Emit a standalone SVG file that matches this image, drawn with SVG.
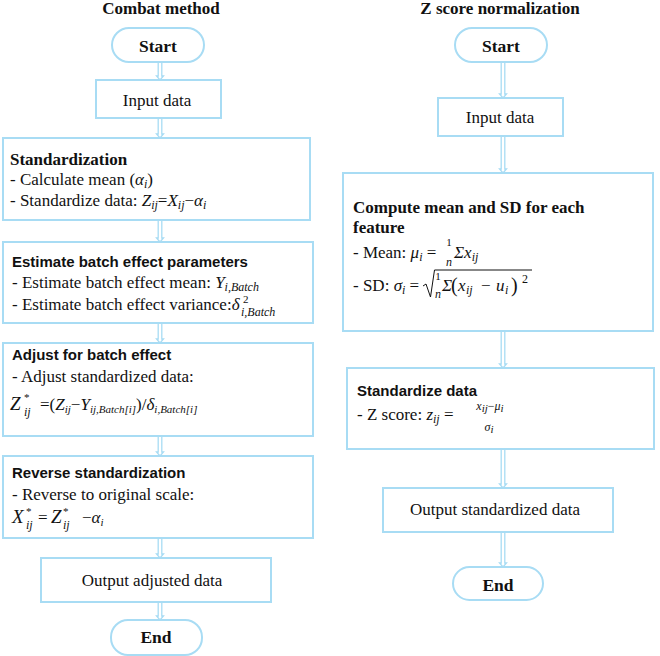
<svg xmlns="http://www.w3.org/2000/svg" width="660" height="656" viewBox="0 0 660 656" font-family="'Liberation Serif', serif">
<defs>
<style>
.bx{fill:#fff;stroke:#a8dcf4;stroke-width:2}
.ar{fill:#fff;stroke:#a8dcf4;stroke-width:1.3}
text{font-family:"Liberation Serif","Times New Roman",serif;font-size:17px;fill:#111}
.bd{font-weight:bold}
.hs{font-family:"Liberation Sans",Arial,sans-serif;font-weight:bold;font-size:15px}
.m{font-style:italic}
.s{font-size:12px}
.ss{font-size:11px}
.big{font-size:19px;font-style:italic}
</style>
</defs>
<rect width="660" height="656" fill="#fff"/>

<text class="bd" x="161" y="14" text-anchor="middle">Combat method</text>
<text class="bd" x="500" y="14" text-anchor="middle">Z score normalization</text>

<g id="connectors">
<path class="ar" d="M158.2 62V76H156.5L160 80L163.5 76H161.8V62"/>
<path class="ar" d="M158.2 118V134H156.5L160 138L163.5 134H161.8V118"/>
<path class="ar" d="M158.2 220V238H156.5L160 242L163.5 238H161.8V220"/>
<path class="ar" d="M158.2 323V339H156.5L160 343L163.5 339H161.8V323"/>
<path class="ar" d="M158.2 436V452H156.5L160 456L163.5 452H161.8V436"/>
<path class="ar" d="M158.2 538V554H156.5L160 558L163.5 554H161.8V538"/>
<path class="ar" d="M158.2 602V616H156.5L160 620L163.5 616H161.8V602"/>
<path class="ar" d="M501.2 62V94H499.5L503 98L506.5 94H504.8V62"/>
<path class="ar" d="M501.2 136V169H499.5L503 173L506.5 169H504.8V136"/>
<path class="ar" d="M501.2 331V364H499.5L503 368L506.5 364H504.8V331"/>
<path class="ar" d="M501.2 449V484H499.5L503 488L506.5 484H504.8V449"/>
<path class="ar" d="M501.2 532V563H499.5L503 567L506.5 563H504.8V532"/>
</g>

<g id="c-start">
<rect class="bx" x="112" y="28" width="92" height="34" rx="17"/>
<text class="bd" x="158" y="52" text-anchor="middle" style="font-size:17.5px">Start</text>
</g>
<g id="c-input">
<rect class="bx" x="96" y="80" width="125" height="38"/>
<text x="157" y="106" text-anchor="middle">Input data</text>
</g>
<g id="c-standardization">
<rect class="bx" x="3" y="138" width="307" height="82"/>
<text class="bd" x="10" y="165">Standardization</text>
<text x="10" y="185">- Calculate mean (<tspan class="m">α</tspan><tspan class="m s" dy="3">i</tspan><tspan dy="-3">)</tspan></text>
<text x="10" y="206">- Standardize data: <tspan class="m">Z</tspan><tspan class="m s" dy="3">ij</tspan><tspan dy="-3">=</tspan><tspan class="m">X</tspan><tspan class="m s" dy="3">ij</tspan><tspan dy="-3">−</tspan><tspan class="m">α</tspan><tspan class="m s" dy="3">i</tspan></text>
</g>
<g id="c-estimate">
<rect class="bx" x="3" y="242" width="310" height="81"/>
<text class="hs" x="12" y="267">Estimate batch effect parameters</text>
<text x="12" y="288">- Estimate batch effect mean: <tspan class="m">Y</tspan><tspan class="m s" dy="3">i,Batch</tspan></text>
<text x="12" y="310">- Estimate batch effect variance:<tspan class="m">δ</tspan></text>
<text class="ss" x="243" y="303">2</text>
<text class="m s" x="241" y="316">i,Batch</text>
</g>
<g id="c-adjust">
<rect class="bx" x="3" y="343" width="310" height="93"/>
<text class="hs" x="12" y="360">Adjust for batch effect</text>
<text x="12" y="382">- Adjust standardized data:</text>
<text class="big" x="10" y="410">Z</text>
<text class="ss" x="24" y="401">*</text>
<text class="m s" x="24" y="416">ij</text>
<text x="40" y="410">=(<tspan class="m">Z</tspan><tspan class="m ss" dy="3">ij</tspan><tspan dy="-3">−</tspan><tspan class="m">Y</tspan><tspan class="m ss" dy="3">ij,Batch[i]</tspan><tspan dy="-3">)/</tspan><tspan class="m">δ</tspan><tspan class="m ss" dy="3">i,Batch[i]</tspan></text>
</g>
<g id="c-reverse">
<rect class="bx" x="3" y="456" width="310" height="82"/>
<text class="hs" x="12" y="478">Reverse standardization</text>
<text x="12" y="500">- Reverse to original scale:</text>
<text class="big" x="12" y="523">X</text>
<text class="ss" x="26" y="515">*</text>
<text class="m s" x="26" y="529">ij</text>
<text x="38" y="523">=</text>
<text class="big" x="51" y="523">Z</text>
<text class="ss" x="63" y="515">*</text>
<text class="m s" x="63" y="529">ij</text>
<text x="82" y="523">−<tspan class="m">α</tspan><tspan class="m ss" dy="3">i</tspan></text>
</g>
<g id="c-output">
<rect class="bx" x="41" y="558" width="230" height="44"/>
<text x="152" y="586" text-anchor="middle">Output adjusted data</text>
</g>
<g id="c-end">
<rect class="bx" x="111" y="620" width="91" height="35" rx="17"/>
<text class="bd" x="156" y="643" text-anchor="middle" style="font-size:17.5px">End</text>
</g>

<g id="z-start">
<rect class="bx" x="455" y="28" width="92" height="34" rx="17"/>
<text class="bd" x="501" y="52" text-anchor="middle" style="font-size:17.5px">Start</text>
</g>
<g id="z-input">
<rect class="bx" x="438" y="98" width="125" height="38"/>
<text x="500" y="123" text-anchor="middle">Input data</text>
</g>
<g id="z-compute">
<rect class="bx" x="343" y="173" width="310" height="158"/>
<text class="bd" x="353" y="213">Compute mean and SD for each</text>
<text class="bd" x="353" y="233">feature</text>
<text x="353" y="258">- Mean: <tspan class="m">μ</tspan><tspan class="m s" dy="3">i</tspan><tspan dy="-3"> = </tspan></text>
<text class="ss" x="449" y="246" text-anchor="middle">1</text>
<text class="m s" x="449" y="266" text-anchor="middle">n</text>
<text x="454" y="258"><tspan class="m">Σx</tspan><tspan class="m s" dy="3">ij</tspan></text>
<text x="353" y="291">- SD: <tspan class="m">σ</tspan><tspan class="m s" dy="3">i</tspan><tspan dy="-3"> = </tspan></text>
<path d="M423 286L426 284L430.5 297L434.5 270H532" fill="none" stroke="#111" stroke-width="1"/>
<text class="ss" x="438" y="280" text-anchor="middle">1</text>
<text class="m s" x="438" y="298" text-anchor="middle">n</text>
<text class="m" x="442" y="291">Σ</text>
<text style="font-size:20px" x="451" y="292">(</text>
<text class="m" x="458" y="291">x</text>
<text class="m s" x="466" y="294">ij</text>
<text x="481" y="291">−</text>
<text class="m" x="496" y="291">u</text>
<text class="m s" x="505" y="294">i</text>
<text style="font-size:20px" x="511" y="292">)</text>
<text class="s" x="522" y="283">2</text>
</g>
<g id="z-standardize">
<rect class="bx" x="347" y="368" width="307" height="81"/>
<text class="hs" x="357" y="396">Standardize data</text>
<text x="357" y="420">- Z score: <tspan class="m">z</tspan><tspan class="m s" dy="3">ij</tspan><tspan dy="-3"> = </tspan></text>
<text class="s" x="490" y="410" text-anchor="middle"><tspan class="m">x</tspan><tspan class="m ss" dy="2">ij</tspan><tspan dy="-2">−</tspan><tspan class="m">μ</tspan><tspan class="m ss" dy="2">i</tspan></text>
<text class="s" x="489" y="431" text-anchor="middle"><tspan class="m">σ</tspan><tspan class="m ss" dy="2">i</tspan></text>
</g>
<g id="z-output">
<rect class="bx" x="383" y="488" width="230" height="44"/>
<text x="495" y="515" text-anchor="middle">Output standardized data</text>
</g>
<g id="z-end">
<rect class="bx" x="453" y="567" width="90" height="33" rx="16.5"/>
<text class="bd" x="498" y="591" text-anchor="middle" style="font-size:17.5px">End</text>
</g>
</svg>
